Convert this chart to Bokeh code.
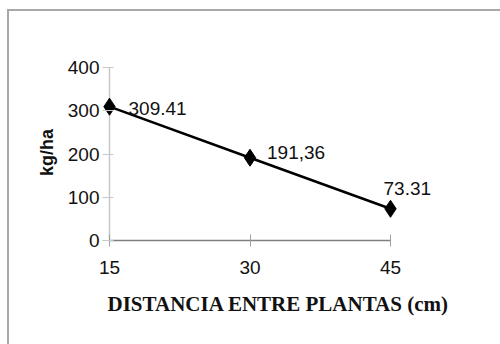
from bokeh.plotting import figure
from bokeh.models import Title, FixedTicker, Range1d, ColumnDataSource
from bokeh.embed import file_html
from bokeh.resources import INLINE
from bokeh.core.properties import value

# Yield by plant spacing
distances = [15, 30, 45]
yields = [309.41, 191.36, 73.31]
value_labels = ["309.41", "191,36", "73.31"]
x_ticks = [15, 30, 45]
y_ticks = [0, 100, 200, 300, 400]

# pixel offsets of the value labels relative to their points
label_dx = [19, 17, -7]
label_dy = [2, -5, -20]

# axis extents in pixels, plus padding so markers and labels are not clipped
X_PX, Y_PX = 281, 173
LEFT_PAD = 9
px_x = X_PX / (x_ticks[-1] - x_ticks[0])
px_y = Y_PX / (y_ticks[-1] - y_ticks[0])
x_range = Range1d(x_ticks[0] - LEFT_PAD / px_x, x_ticks[-1] + 55 / px_x)
y_range = Range1d(y_ticks[0], y_ticks[-1] + 3 / px_y)

p = figure(width=500, height=344, output_backend="svg", toolbar_location=None,
           x_range=x_range, y_range=y_range,
           min_border_left=100, min_border_right=55,
           min_border_top=64, min_border_bottom=104)
p.xgrid.visible = False
p.ygrid.visible = False
p.outline_line_color = None
p.background_fill_color = None
p.border_fill_color = None
# thin grey frame lines along the top and left of the chart area
p.styles = {
    "background": ("linear-gradient(#a8a8a8,#a8a8a8) 7px 9px / 2px 100% no-repeat, "
                   "linear-gradient(#a8a8a8,#a8a8a8) 7px 9px / 100% 2px no-repeat, white"),
}

sans = "Liberation Sans"

# the value axis sits a few pixels left of x=15; its ticks are shifted inward
# so they cross the vertical line drawn at x=15
yax = p.yaxis[0]
yax.ticker = FixedTicker(ticks=y_ticks)
yax.axis_line_color = None
yax.major_tick_line_color = "#c8c8c8"
yax.major_tick_in = LEFT_PAD + 4
yax.major_tick_out = -2
yax.minor_tick_line_color = None
yax.major_label_standoff = 1
yax.major_label_text_font = sans
yax.major_label_text_font_size = "19px"
yax.major_label_text_color = "#111111"
yax.axis_label = "kg/ha"
yax.axis_label_text_font = sans
yax.axis_label_text_font_style = "bold"
yax.axis_label_text_font_size = "18px"
yax.axis_label_text_color = "#111111"
yax.axis_label_standoff = 8

# vertical axis line at x=15
p.segment(x0=[x_ticks[0]], y0=[y_ticks[0]], x1=[x_ticks[0]], y1=[y_ticks[-1]],
          line_color="#c8c8c8", line_width=1.5)

xax = p.xaxis[0]
xax.ticker = FixedTicker(ticks=x_ticks)
xax.bounds = (x_ticks[0], x_ticks[-1])
xax.axis_line_color = "#808080"
xax.axis_line_width = 1.5
xax.major_tick_line_color = "#a0a0a0"
xax.major_tick_in = 6
xax.major_tick_out = 6
xax.minor_tick_line_color = None
xax.major_label_standoff = 14
xax.major_label_text_font = sans
xax.major_label_text_font_size = "19px"
xax.major_label_text_color = "#111111"

src = ColumnDataSource(dict(x=distances, y=yields, t=value_labels,
                            dx=label_dx, dy=label_dy))
p.line("x", "y", source=src, line_color="black", line_width=2.5)
p.scatter("x", "y", source=src, marker="diamond", size=17,
          fill_color="black", line_color="black")
p.text("x", "y", text="t", source=src, x_offset="dx", y_offset="dy",
       text_font=value(sans), text_font_size="19px", text_color="#111111",
       text_baseline="middle", text_align="left")

p.add_layout(Title(text="DISTANCIA ENTRE PLANTAS (cm)", align="left", offset=7,
                   text_font="Liberation Serif", text_font_style="bold",
                   text_font_size="21px", text_color="#111111", standoff=27),
             "below")

open("out.html", "w").write(file_html(p, INLINE))
